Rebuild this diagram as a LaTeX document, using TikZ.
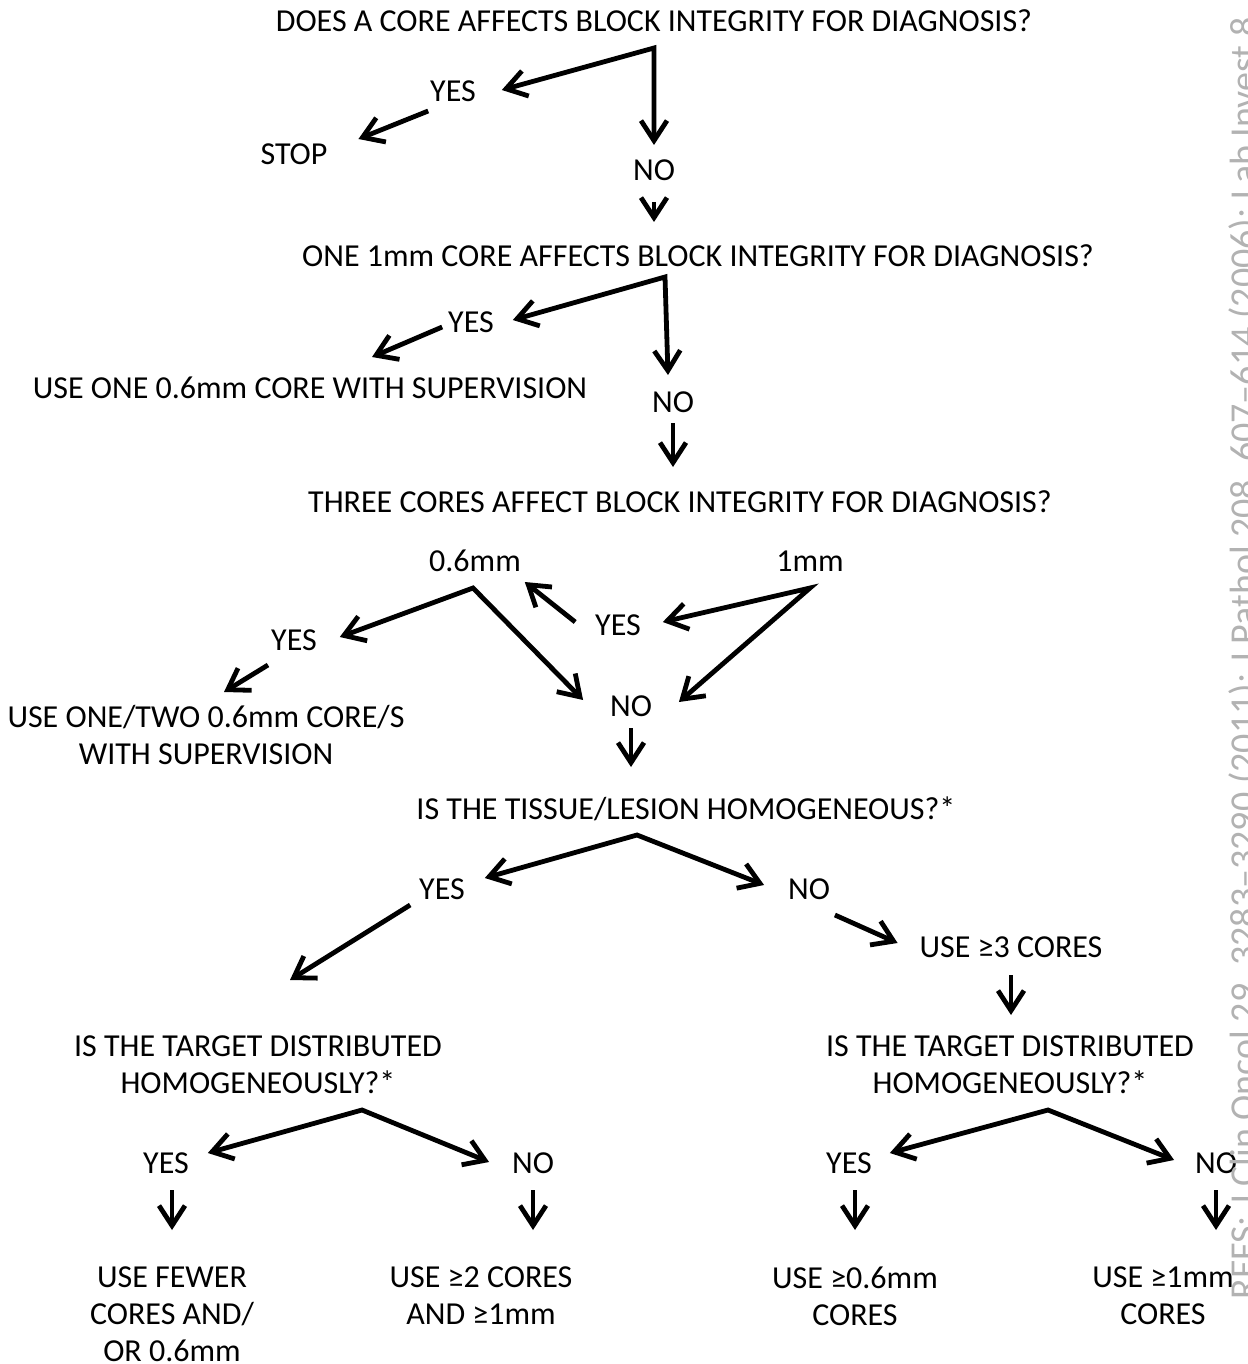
\documentclass[tikz,border=0pt]{standalone}
\usepackage{fontspec}
\setmainfont{Carlito}
\usetikzlibrary{arrows.meta}

\tikzset{
  lbl/.style={inner sep=0pt, outer sep=0pt, anchor=base, text height=10pt, text depth=0pt, font=\fontsize{16}{18.5}\selectfont},
  mlbl/.style={inner sep=0pt, outer sep=0pt, anchor=north, align=center, font=\fontsize{16}{18.5}\selectfont},
  arr/.style={line width=2.4pt, -{Straight Barb[length=10pt,width=13pt]}},
  arrr/.style={line width=2.4pt, {Straight Barb[length=10pt,width=13pt]}-{Straight Barb[length=10pt,width=13pt]}}
}

\begin{document}
\begin{tikzpicture}[x=0.5pt,y=0.5pt,yscale=-1,xscale=1]
\useasboundingbox (0,0) rectangle (1247,1364);

% Text Node
\node [lbl] (q1) at (654,32) {DOES A CORE AFFECTS BLOCK INTEGRITY FOR DIAGNOSIS?};
% Text Node
\node [lbl] (yes1) at (453,102) {YES};
% Text Node
\node [lbl] (stop) at (294,165) {STOP};
% Text Node
\node [lbl] (no1) at (654,181) {NO};
% Text Node
\node [lbl] (q2) at (698,266) {ONE 1mm CORE AFFECTS BLOCK INTEGRITY FOR DIAGNOSIS?};
% Text Node
\node [lbl] (yes2) at (471,332) {YES};
% Text Node
\node [lbl] (one06) at (310,398) {USE ONE 0.6mm CORE WITH SUPERVISION};
% Text Node
\node [lbl] (no2) at (673,412) {NO};
% Text Node
\node [lbl] (q3) at (680,512) {THREE CORES AFFECT BLOCK INTEGRITY FOR DIAGNOSIS?};
% Text Node
\node [lbl] (mm06) at (475,571) {0.6mm};
% Text Node
\node [lbl] (mm1) at (810,571) {1mm};
% Text Node
\node [lbl] (yes3r) at (618,635) {YES};
% Text Node
\node [lbl] (yes3l) at (294,650) {YES};
% Text Node
\node [mlbl] (onetwo) at (206,705) {USE ONE/TWO 0.6mm CORE/S\\WITH SUPERVISION};
% Text Node
\node [lbl] (no3) at (631,716) {NO};
% Text Node
\node [lbl] (q4) at (686,819) {IS THE TISSUE/LESION HOMOGENEOUS?*};
% Text Node
\node [lbl] (yes4) at (442,899) {YES};
% Text Node
\node [lbl] (no4) at (809,899) {NO};
% Text Node
\node [lbl] (use3) at (1011,957) {USE ≥3 CORES};
% Text Node
\node [mlbl] (q5l) at (258,1036) {IS THE TARGET DISTRIBUTED\\HOMOGENEOUSLY?*};
% Text Node
\node [mlbl] (q5r) at (1010,1036) {IS THE TARGET DISTRIBUTED\\HOMOGENEOUSLY?*};
% Text Node
\node [lbl] (yes5l) at (166,1173) {YES};
% Text Node
\node [lbl] (no5l) at (533,1173) {NO};
% Text Node
\node [lbl] (yes5r) at (849,1173) {YES};
% Text Node
\node [lbl] (no5r) at (1216,1173) {NO};
% Text Node
\node [mlbl] (fewer) at (172,1267) {USE FEWER\\CORES AND/\\OR 0.6mm};
% Text Node
\node [mlbl] (use2) at (481,1267) {USE ≥2 CORES\\AND ≥1mm};
% Text Node
\node [mlbl] (use06) at (855,1267) {USE ≥0.6mm\\CORES};
% Text Node
\node [mlbl] (use1) at (1163,1267) {USE ≥1mm\\CORES};
% Text Node
\node [rotate=90, anchor=base west, inner sep=0pt, text=black!30, font=\fontsize{19}{22}\selectfont] (refs) at (1256,1300) {REFS: J Clin Oncol 29, 3283–3290 (2011); J Pathol 208, 607–614 (2006); Lab Invest 8};

%Corners
\coordinate (q1c) at (654,48);
\coordinate (q2c) at (665,277);
\coordinate (mm06c) at (473,588);
\coordinate (mm1c) at (810,588);
\coordinate (q4c) at (637,835);
\coordinate (q5lc) at (362,1110);
\coordinate (q5rc) at (1048,1110);

%Straight Lines
\draw [arrr] ([shift={(26,-2)}]yes1.east) -- (q1c) -- ([shift={(0,-16)}]no1.north) ;
%Straight Lines
\draw [arr] ([shift={(-2,9)}]yes1.south west) -- ([shift={(31,-6)}]stop.north east) ;
%Straight Lines
\draw [arr, shorten <=10.5pt, shorten >=12pt] (no1.south) -- (no1.south |- q2.north) ;

%Straight Lines
\draw [arrr] ([shift={(19,-2)}]yes2.east) -- (q2c) -- ([shift={(-5,-17)}]no2.north) ;
%Straight Lines
\draw [arr] ([shift={(-6,-5)}]yes2.south west) -- ([shift={(62,-21)}]one06.north) ;
%Straight Lines
\draw [arr, shorten <=5.5pt, shorten >=12.5pt] (no2.south) -- (no2.south |- q3.north) ;

%Straight Lines
\draw [arrr] ([shift={(23,7)}]yes3l.north east) -- (mm06c) -- ([shift={(-27,4)}]no3.north west) ;
%Straight Lines
\draw [arr] ([shift={(-20,-3)}]yes3r.west) -- ([shift={(4,11)}]mm06.south east) ;
%Straight Lines
\draw [arrr] ([shift={(22,-3)}]yes3r.east) -- (mm1c) -- ([shift={(27,6)}]no3.north east) ;
%Straight Lines
\draw [arr] ([shift={(-26,15)}]yes3l.south) -- ([shift={(18,-13)}]onetwo.north) ;
%Straight Lines
\draw [arr, shorten <=6pt, shorten >=16pt] (no3.south) -- (no3.south |- q4.north) ;

%Straight Lines
\draw [arrr] ([shift={(20,-11)}]yes4.east) -- (q4c) -- ([shift={(-24,-4)}]no4.west) ;
%Straight Lines
\draw [arr] ([shift={(-9,6)}]yes4.south west) -- ([shift={(32,-56)}]q5l.north) ;
%Straight Lines
\draw [arr] ([shift={(5,16)}]no4.south east) -- ([shift={(-22,-4)}]use3.west) ;
%Straight Lines
\draw [arr, shorten <=9pt, shorten >=10.5pt] (use3.south) -- (use3.south |- q5r.north) ;

%Straight Lines
\draw [arrr] ([shift={(19,-10)}]yes5l.east) -- (q5lc) -- ([shift={(-23,-1)}]no5l.west) ;
%Straight Lines
\draw [arrr] ([shift={(18,-10)}]yes5r.east) -- (q5rc) -- ([shift={(-21,-3)}]no5r.west) ;
%Straight Lines
\draw [arr, shorten <=8.5pt, shorten >=18.5pt] (fewer.north |- yes5l.south) -- (fewer.north) ;
%Straight Lines
\draw [arr, shorten <=8.5pt, shorten >=18.5pt] (no5l.south) -- (no5l.south |- use2.north) ;
%Straight Lines
\draw [arr, shorten <=8.5pt, shorten >=18.5pt] (use06.north |- yes5r.south) -- (use06.north) ;
%Straight Lines
\draw [arr, shorten <=8.5pt, shorten >=18.5pt] (no5r.south) -- (no5r.south |- use1.north) ;

\end{tikzpicture}
\end{document}
